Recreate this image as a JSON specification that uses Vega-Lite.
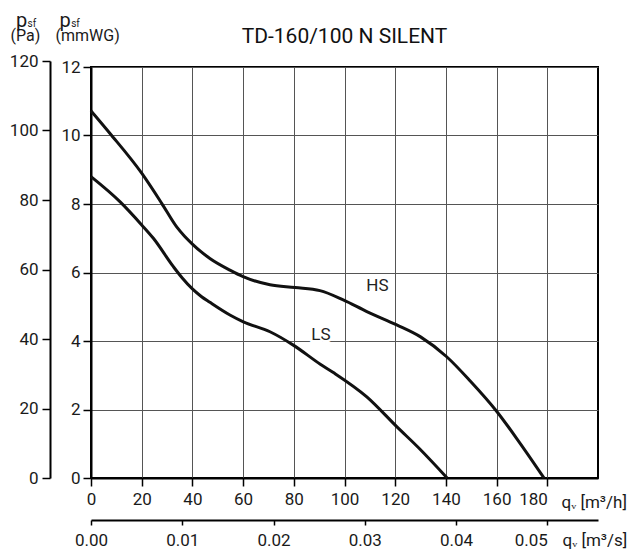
{
  "$schema": "https://vega.github.io/schema/vega-lite/v6.json",
  "width": 507,
  "height": 411,
  "autosize": {"type": "none"},
  "padding": {"left": 91, "top": 67, "right": 42, "bottom": 71},
  "background": "white",
  "config": {
    "view": {"stroke": "#000", "strokeWidth": 2},
    "font": "Roboto",
    "axis": {
      "labelFont": "Roboto",
      "titleFont": "Roboto",
      "labelColor": "#1a1a1a",
      "titleColor": "#1a1a1a",
      "tickColor": "#000",
      "domainColor": "#000",
      "titleFontWeight": "normal",
      "labelFontSize": 17,
      "labelOverlap": false
    }
  },
  "title": {
    "text": "TD-160/100 N SILENT",
    "frame": "group",
    "anchor": "middle",
    "fontSize": 21,
    "fontWeight": "normal",
    "font": "Roboto",
    "color": "#111",
    "baseline": "alphabetic",
    "offset": -54
  },
  "datasets": {
    "curves": [
      {"speed": "HS", "q": 0, "p": 10.72},
      {"speed": "HS", "q": 7.5, "p": 10.06},
      {"speed": "HS", "q": 20, "p": 8.9},
      {"speed": "HS", "q": 27.9, "p": 8.02},
      {"speed": "HS", "q": 33.8, "p": 7.33},
      {"speed": "HS", "q": 37, "p": 7.05},
      {"speed": "HS", "q": 40, "p": 6.83},
      {"speed": "HS", "q": 43.5, "p": 6.6},
      {"speed": "HS", "q": 46.9, "p": 6.41},
      {"speed": "HS", "q": 54.8, "p": 6.07},
      {"speed": "HS", "q": 60, "p": 5.88},
      {"speed": "HS", "q": 70.6, "p": 5.64},
      {"speed": "HS", "q": 80.5, "p": 5.56},
      {"speed": "HS", "q": 90.3, "p": 5.47},
      {"speed": "HS", "q": 99.5, "p": 5.2},
      {"speed": "HS", "q": 108.8, "p": 4.86},
      {"speed": "HS", "q": 120.6, "p": 4.47},
      {"speed": "HS", "q": 130, "p": 4.12},
      {"speed": "HS", "q": 140.3, "p": 3.54},
      {"speed": "HS", "q": 149.5, "p": 2.84},
      {"speed": "HS", "q": 160, "p": 1.95},
      {"speed": "HS", "q": 169.2, "p": 1.02},
      {"speed": "HS", "q": 178.7, "p": 0},
      {"speed": "LS", "q": 0, "p": 8.8},
      {"speed": "LS", "q": 11.4, "p": 8.07},
      {"speed": "LS", "q": 20, "p": 7.39},
      {"speed": "LS", "q": 24.6, "p": 7.0},
      {"speed": "LS", "q": 32.5, "p": 6.17},
      {"speed": "LS", "q": 36, "p": 5.84},
      {"speed": "LS", "q": 40, "p": 5.52},
      {"speed": "LS", "q": 43.5, "p": 5.3},
      {"speed": "LS", "q": 46.9, "p": 5.13},
      {"speed": "LS", "q": 54.8, "p": 4.76},
      {"speed": "LS", "q": 60.1, "p": 4.56},
      {"speed": "LS", "q": 70.6, "p": 4.27},
      {"speed": "LS", "q": 79.8, "p": 3.88},
      {"speed": "LS", "q": 90.3, "p": 3.33},
      {"speed": "LS", "q": 95.6, "p": 3.08},
      {"speed": "LS", "q": 108.8, "p": 2.37},
      {"speed": "LS", "q": 120.6, "p": 1.5},
      {"speed": "LS", "q": 129.8, "p": 0.84},
      {"speed": "LS", "q": 140.5, "p": 0}
    ],
    "labels": [
      {"label": "HS", "q": 113, "p": 5.6},
      {"label": "LS", "q": 90.7, "p": 4.18}
    ],
    "frame": [
      {"qs": 0, "pa": 0},
      {"qs": 0.0555556, "pa": 120}
    ]
  },
  "layer": [
    {
      "encoding": {
        "x": {
          "field": "q",
          "type": "quantitative",
          "scale": {"domain": [0, 200], "nice": false, "zero": false},
          "axis": {
            "orient": "bottom",
            "values": [0, 20, 40, 60, 80, 100, 120, 140, 160, 180],
            "grid": true,
            "gridColor": "#555",
            "gridWidth": 1,
            "gridOpacity": 1,
            "domainWidth": 2,
            "tickSize": 8,
            "tickWidth": 1.5,
            "labelPadding": 5.5,
            "labelFlush": false,
            "labelAlign": {"condition": {"test": "datum.value === 180", "value": "right"}, "value": "center"},
            "title": "qᵥ [m³/h]",
            "titleX": 470,
            "titleY": 29,
            "titleAlign": "left",
            "titleBaseline": "alphabetic",
            "titleFontSize": 17
          }
        },
        "y": {
          "field": "p",
          "type": "quantitative",
          "scale": {"domain": [0, 12], "nice": false, "zero": false},
          "axis": {
            "orient": "left",
            "values": [0, 2, 4, 6, 8, 10, 12],
            "grid": true,
            "gridColor": "#555",
            "gridWidth": 1,
            "gridOpacity": 1,
            "domainWidth": 2,
            "tickSize": 8,
            "tickWidth": 1.5,
            "labelPadding": 3,
            "title": "(mmWG)",
            "titleX": -36,
            "titleY": -26.5,
            "titleAngle": 0,
            "titleAlign": "left",
            "titleBaseline": "alphabetic",
            "titleFontSize": 16
          }
        }
      },
      "layer": [
        {
          "data": {"name": "labels"},
          "mark": {"type": "text", "fontSize": 17, "font": "Roboto", "fill": "white", "stroke": "white", "strokeWidth": 5, "align": "center", "baseline": "middle"},
          "encoding": {"text": {"field": "label"}}
        },
        {
          "data": {"name": "curves"},
          "mark": {"type": "line", "interpolate": "monotone", "strokeWidth": 3, "color": "#111"},
          "encoding": {"detail": {"field": "speed"}}
        },
        {
          "data": {"name": "labels"},
          "mark": {"type": "text", "fontSize": 17, "font": "Roboto", "color": "#222", "align": "center", "baseline": "middle"},
          "encoding": {"text": {"field": "label"}}
        }
      ]
    },
    {
      "data": {"name": "frame"},
      "mark": {"type": "point", "opacity": 0},
      "encoding": {
        "x": {
          "field": "qs",
          "type": "quantitative",
          "scale": {"domain": [0, 0.0555556], "nice": false, "zero": false},
          "axis": {
            "orient": "bottom",
            "offset": 42,
            "values": [0, 0.01, 0.02, 0.03, 0.04, 0.05],
            "format": ".2f",
            "grid": false,
            "domainWidth": 2,
            "tickSize": 5,
            "tickWidth": 1.5,
            "labelPadding": 7,
            "labelFlush": false,
            "labelAlign": {"condition": {"test": "datum.value > 0.045", "value": "right"}, "value": "center"},
            "title": "qᵥ [m³/s]",
            "titleX": 471,
            "titleY": 25,
            "titleAlign": "left",
            "titleBaseline": "alphabetic",
            "titleFontSize": 17
          }
        },
        "y": {
          "field": "pa",
          "type": "quantitative",
          "scale": {"domain": [0, 120], "range": [411, -6], "nice": false, "zero": false},
          "axis": {
            "orient": "left",
            "offset": 41,
            "values": [0, 20, 40, 60, 80, 100, 120],
            "grid": false,
            "domainWidth": 2,
            "tickSize": 8,
            "tickWidth": 1.5,
            "labelPadding": 4,
            "title": "(Pa)",
            "titleX": -40,
            "titleY": -26.5,
            "titleAngle": 0,
            "titleAlign": "left",
            "titleBaseline": "alphabetic",
            "titleFontSize": 16
          }
        }
      }
    },
    {
      "data": {"name": "frame"},
      "mark": {"type": "point", "opacity": 0},
      "encoding": {
        "x": {
          "field": "qs",
          "type": "quantitative",
          "axis": {
            "orient": "top",
            "domain": false, "ticks": false, "labels": false, "grid": false,
            "title": "p",
            "titleX": -32, "titleY": -41,
            "titleAlign": "left", "titleBaseline": "alphabetic",
            "titleFontSize": 20
          }
        },
        "y": {
          "field": "pa",
          "type": "quantitative",
          "axis": {
            "orient": "left",
            "domain": false, "ticks": false, "labels": false, "grid": false,
            "title": "p",
            "titleX": -75.5, "titleY": -41, "titleAngle": 0,
            "titleAlign": "left", "titleBaseline": "alphabetic",
            "titleFontSize": 20
          }
        }
      }
    },
    {
      "data": {"name": "frame"},
      "mark": {"type": "point", "opacity": 0},
      "encoding": {
        "x": {
          "field": "qs",
          "type": "quantitative",
          "axis": {
            "orient": "top",
            "domain": false, "ticks": false, "labels": false, "grid": false,
            "title": "sf",
            "titleX": -20.3, "titleY": -40.3,
            "titleAlign": "left", "titleBaseline": "alphabetic",
            "titleFontSize": 10
          }
        },
        "y": {
          "field": "pa",
          "type": "quantitative",
          "axis": {
            "orient": "left",
            "domain": false, "ticks": false, "labels": false, "grid": false,
            "title": "sf",
            "titleX": -64, "titleY": -40.3, "titleAngle": 0,
            "titleAlign": "left", "titleBaseline": "alphabetic",
            "titleFontSize": 10
          }
        }
      }
    }
  ],
  "resolve": {"scale": {"x": "independent", "y": "independent"}}
}
